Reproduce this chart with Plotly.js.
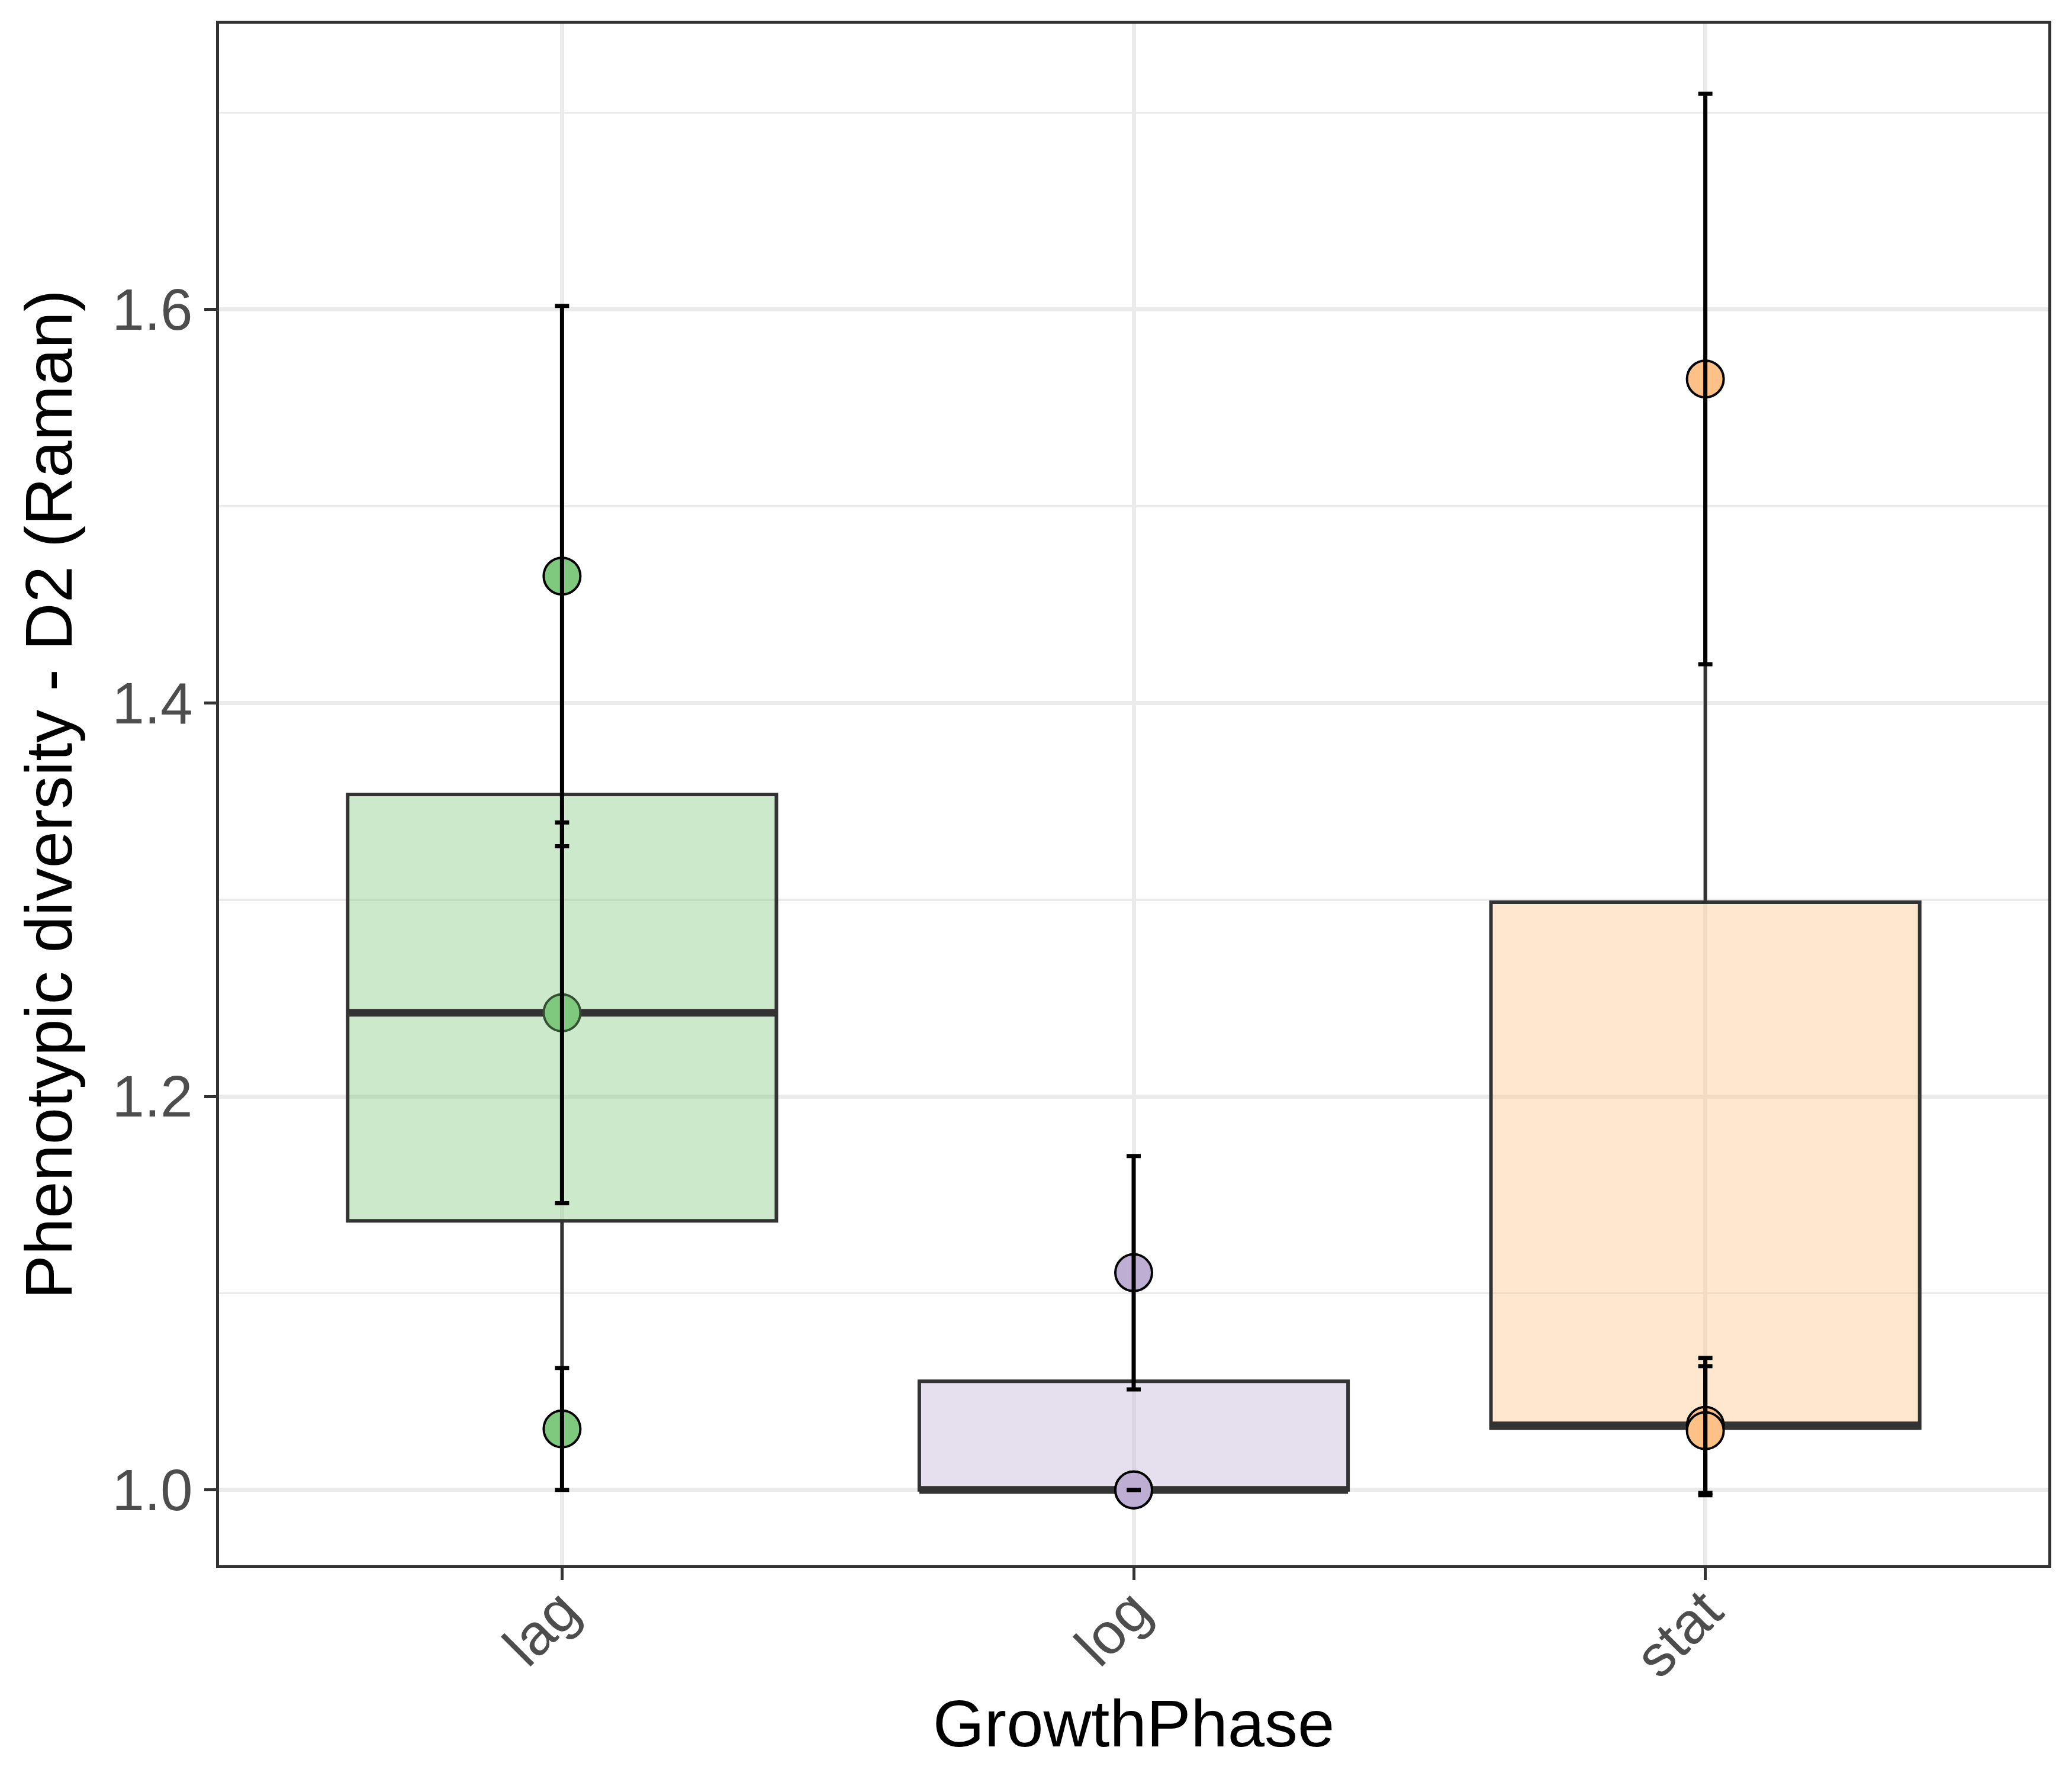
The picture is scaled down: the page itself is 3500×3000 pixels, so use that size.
<!DOCTYPE html>
<html>
<head>
<meta charset="utf-8">
<script src="https://cdn.plot.ly/plotly-3.0.1.min.js"></script>
<style>
  html, body { margin: 0; padding: 0; background: #ffffff; }
  #chart { width: 3500px; height: 3000px; }
</style>
</head>
<body>
<div id="chart"></div>
<script>
// values
var phases = ["lag", "log", "stat"];
var lagValues = [1.4645, 1.2425, 1.031];
var lagSd = [0.1373, 0.0968, 0.031];
var logValues = [1.1104, 1.0, 1.0];
var logSd = [0.0593, 0, 0];
var statValues = [1.5647, 1.0328, 1.0301];
var statSd = [0.145, 0.0343, 0.0328];
var yTicks = [1.0, 1.2, 1.4, 1.6];

// Accent palette, as in the ggplot original
var fills = ["#7FC97F", "#BEAED4", "#FDC086"];
var boxFills = ["rgba(127,201,127,0.4)", "rgba(190,174,212,0.4)", "rgba(253,192,134,0.4)"];
// points that sit under the translucent box get a faded outline
var outlines = [["#000000", "rgb(51,80,51)", "#000000"], ["#000000", "#000000", "#000000"], ["#000000", "#000000", "#000000"]];

var groups = [
  { name: phases[0], y: lagValues, sd: lagSd },
  { name: phases[1], y: logValues, sd: logSd },
  { name: phases[2], y: statValues, sd: statSd },
];

function median(arr) {
  var s = arr.slice().sort(function (a, b) { return a - b; });
  var m = Math.floor(s.length / 2);
  return s.length % 2 ? s[m] : (s[m - 1] + s[m]) / 2;
}

function repeat(v, n) {
  var out = [];
  for (var i = 0; i < n; i++) out.push(v);
  return out;
}

var pointTraces = [];
var boxTraces = [];
var medianTraces = [];
var errorTraces = [];

groups.forEach(function (g, i) {
  var xs = repeat(g.name, g.y.length);
  pointTraces.push({
    type: "scatter",
    mode: "markers",
    x: xs,
    y: g.y,
    marker: { size: 62, color: fills[i], line: { color: outlines[i], width: 4 } },
    hoverinfo: "skip",
  });
  boxTraces.push({
    type: "box",
    x: xs,
    y: g.y,
    width: 0.75,
    quartilemethod: "inclusive",
    boxpoints: false,
    whiskerwidth: 0,
    fillcolor: boxFills[i],
    line: { color: "#333333", width: 6 },
    hoverinfo: "skip",
  });
  // thick median bar, drawn as a flat box at the group's median
  medianTraces.push({
    type: "box",
    x: [g.name],
    y: [median(g.y)],
    width: 0.75,
    boxpoints: false,
    whiskerwidth: 0,
    fillcolor: "rgba(0,0,0,0)",
    line: { color: "#333333", width: 13 },
    hoverinfo: "skip",
  });
  errorTraces.push({
    type: "scatter",
    mode: "markers",
    x: xs,
    y: g.y,
    marker: { size: 1, color: "rgba(0,0,0,0)" },
    error_y: { type: "data", array: g.sd, symmetric: true, color: "#000000", thickness: 7, width: 12 },
    hoverinfo: "skip",
  });
});

var traces = pointTraces.concat(boxTraces, medianTraces, errorTraces);

var layout = {
  width: 3500,
  height: 3000,
  margin: { l: 370, r: 40, t: 40, b: 356, pad: 0 },
  paper_bgcolor: "#ffffff",
  plot_bgcolor: "#ffffff",
  showlegend: false,
  boxmode: "overlay",
  font: { family: "Liberation Sans, Arial, sans-serif", color: "#000000" },
  xaxis: {
    type: "category",
    categoryorder: "array",
    categoryarray: phases,
    range: [-0.6, 2.6],
    showgrid: true,
    gridcolor: "#EBEBEB",
    gridwidth: 7,
    zeroline: false,
    showline: true,
    mirror: true,
    linecolor: "#333333",
    linewidth: 5,
    ticks: "outside",
    ticklen: 20,
    tickwidth: 5,
    tickcolor: "#333333",
    tickangle: -45,
    ticklabelstandoff: -45,
    tickfont: { size: 98, color: "#4D4D4D" },
    title: { text: "GrowthPhase", font: { size: 112, color: "#000000" }, standoff: 20 },
  },
  yaxis: {
    range: [0.9617, 1.7453],
    automargin: true,
    tickmode: "array",
    tickvals: yTicks,
    ticktext: yTicks.map(function (v) { return v.toFixed(1); }),
    showgrid: true,
    gridcolor: "#EBEBEB",
    gridwidth: 7,
    minor: { dtick: 0.1, tick0: 1.0, showgrid: true, gridcolor: "#EBEBEB", gridwidth: 3.5, ticks: "" },
    zeroline: false,
    showline: true,
    mirror: true,
    linecolor: "#333333",
    linewidth: 5,
    ticks: "outside",
    ticklen: 20,
    tickwidth: 5,
    tickcolor: "#333333",
    tickfont: { size: 98, color: "#4D4D4D" },
    title: { text: "Phenotypic diversity - D2 (Raman)", font: { size: 112, color: "#000000" }, standoff: 31 },
  },
};

Plotly.newPlot("chart", traces, layout, { displayModeBar: false, staticPlot: true });
</script>
</body>
</html>
